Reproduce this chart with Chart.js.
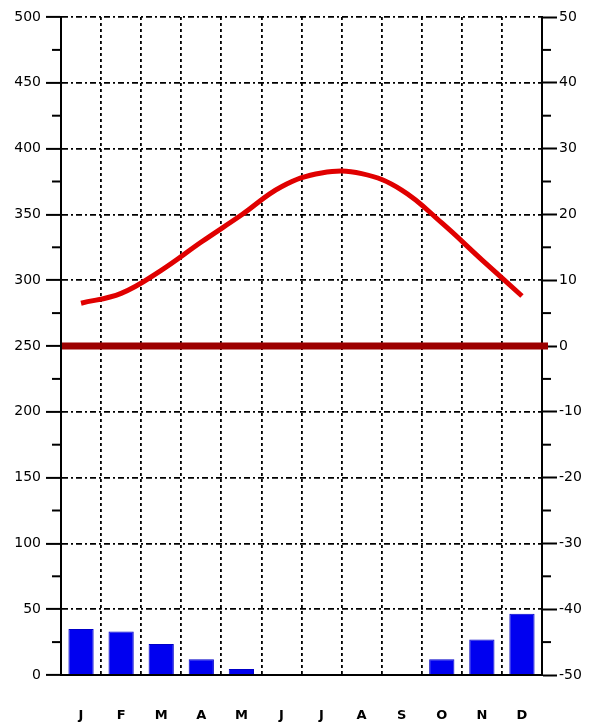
<!DOCTYPE html>
<html>
<head>
<meta charset="utf-8">
<script src="https://cdn.jsdelivr.net/npm/chart.js@4/dist/chart.umd.min.js"></script>
<style>
  html, body { margin: 0; padding: 0; background: #fff; }
  #wrap { width: 591px; height: 722px; }
</style>
</head>
<body>
<div id="wrap"><canvas id="chart"></canvas></div>
<script>
"use strict";

// months, precipitation (mm, left axis) and temperature (°C, right axis)
const months = ["J", "F", "M", "A", "M", "J", "J", "A", "S", "O", "N", "D"];
const precip = [35, 33, 23.5, 12, 4.5, 0, 0, 0, 0, 12, 27, 46.5];
const temp = [6.5, 8.0, 11.5, 15.8, 19.9, 24.2, 26.3, 26.2, 23.7, 18.7, 13.1, 7.6];
const ZERO_TEMP = 0;

const FONT = { family: "DejaVu Sans", size: 14 };

// short ticks for the unlabelled steps on both axes
const minorTicks = {
  id: "minorTicks",
  afterDraw(chart) {
    const ctx = chart.ctx;
    const left = chart.scales.y;
    const right = chart.scales.y2;
    ctx.save();
    ctx.strokeStyle = "#000";
    ctx.lineWidth = 2;
    left.ticks.forEach((t) => {
      if (t.value % 50 === 0) return;
      const y = left.getPixelForValue(t.value);
      ctx.beginPath();
      ctx.moveTo(left.right - 9, y);
      ctx.lineTo(left.right, y);
      ctx.stroke();
    });
    right.ticks.forEach((t) => {
      if (t.value % 10 === 0) return;
      const y = right.getPixelForValue(t.value);
      ctx.beginPath();
      ctx.moveTo(right.left, y);
      ctx.lineTo(right.left + 9, y);
      ctx.stroke();
    });
    ctx.restore();
  }
};

// thick dark red line at 0 °C
const zeroLine = {
  id: "zeroLine",
  beforeDatasetsDraw(chart) {
    const ctx = chart.ctx;
    const area = chart.chartArea;
    const y = chart.scales.y2.getPixelForValue(ZERO_TEMP);
    ctx.save();
    ctx.strokeStyle = "#9c0000";
    ctx.lineWidth = 7;
    ctx.beginPath();
    ctx.moveTo(area.left + 1, y);
    ctx.lineTo(area.right + 6, y);
    ctx.stroke();
    ctx.restore();
  }
};

new Chart(document.getElementById("chart"), {
  type: "bar",
  data: {
    labels: months,
    datasets: [
      {
        type: "line",
        data: temp,
        yAxisID: "y2",
        borderColor: "#e00000",
        borderWidth: 5,
        pointRadius: 0,
        tension: 0.4,
        order: 0
      },
      {
        data: precip,
        yAxisID: "y",
        backgroundColor: "#0000f0",
        borderColor: "#0000c8",
        borderWidth: 1,
        barPercentage: 0.63,
        categoryPercentage: 1,
        order: 1
      }
    ]
  },
  options: {
    responsive: true,
    maintainAspectRatio: false,
    animation: false,
    layout: { padding: { top: 17, left: 0, right: 0, bottom: 0 } },
    plugins: { legend: { display: false }, tooltip: { enabled: false } },
    scales: {
      x: {
        offset: true,
        grid: {
          offset: true,
          color: "#000",
          lineWidth: 1.8,
          drawTicks: false
        },
        border: { display: true, color: "#000", width: 2, dash: [3, 3] },
        ticks: {
          color: "#000",
          padding: 33,
          font: { family: "DejaVu Sans", size: 13, weight: "bold" }
        },
        afterFit: (s) => { s.height = 47; }
      },
      y: {
        position: "left",
        min: 0,
        max: 500,
        ticks: {
          stepSize: 25,
          autoSkip: false,
          color: "#000",
          padding: 5,
          font: FONT,
          callback: (v) => (v % 50 === 0 ? v : "")
        },
        grid: {
          color: (c) => (c.tick && c.tick.value % 50 === 0 ? "#000" : "rgba(0,0,0,0)"),
          lineWidth: 1.8,
          tickLength: 15,
          tickWidth: 2,
          tickColor: (c) => (c.tick && c.tick.value % 50 === 0 ? "#000" : "rgba(0,0,0,0)")
        },
        border: { display: true, color: "#000", width: 2, dash: [6, 3, 2, 3] },
        afterFit: (s) => { s.width = 61; }
      },
      y2: {
        position: "right",
        min: -50,
        max: 50,
        ticks: {
          stepSize: 5,
          autoSkip: false,
          color: "#000",
          padding: 2,
          font: FONT,
          callback: (v) => (v % 10 === 0 ? v : "")
        },
        grid: {
          drawOnChartArea: false,
          tickLength: 15,
          tickWidth: 2,
          tickColor: (c) => (c.tick && c.tick.value % 10 === 0 ? "#000" : "rgba(0,0,0,0)")
        },
        border: { display: true, color: "#000", width: 2 },
        afterFit: (s) => { s.width = 49; }
      }
    }
  },
  plugins: [zeroLine, minorTicks]
});
</script>
</body>
</html>
